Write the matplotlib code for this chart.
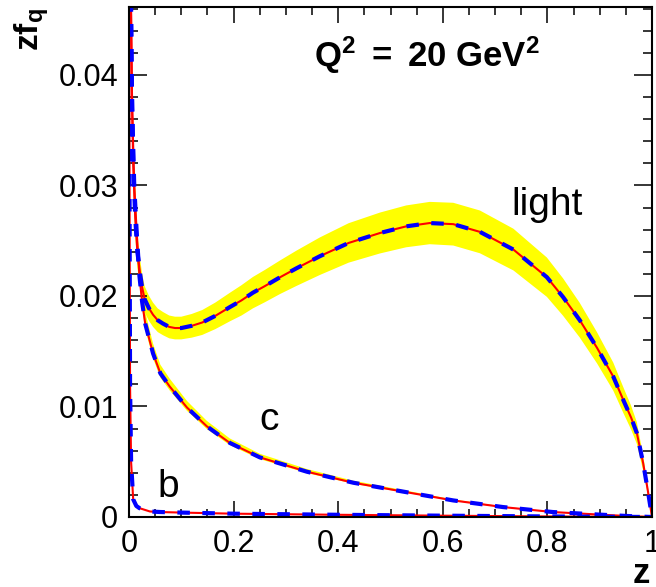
import numpy as np
import matplotlib.pyplot as plt

plt.rcParams['font.family'] = ['Liberation Sans', 'DejaVu Sans']
plt.rcParams['mathtext.fontset'] = 'custom'
plt.rcParams['mathtext.rm'] = 'Liberation Sans'
plt.rcParams['mathtext.bf'] = 'Liberation Sans:bold'
plt.rcParams['mathtext.it'] = 'Liberation Sans:italic'

# light quark fragmentation, Q^2 = 20 GeV^2
light_z = [0.001, 0.003, 0.005, 0.008, 0.012, 0.016, 0.021, 0.025, 0.03, 0.038,
           0.046, 0.055, 0.065, 0.077, 0.088, 0.1, 0.12, 0.14, 0.165, 0.193,
           0.215, 0.237, 0.26, 0.289, 0.32, 0.365, 0.42, 0.48, 0.53, 0.575,
           0.62, 0.671, 0.735, 0.799, 0.83, 0.862, 0.895, 0.926, 0.945, 0.96,
           0.971, 0.983, 0.992, 1.0]
light_f = [0.07, 0.05, 0.040, 0.032, 0.027, 0.024, 0.0221, 0.0208, 0.0197, 0.0189,
           0.0183, 0.0178, 0.0175, 0.0172, 0.0171, 0.0171, 0.0173, 0.0176, 0.0182, 0.019,
           0.0196, 0.0203, 0.0209, 0.0217, 0.0225, 0.0236, 0.0248, 0.0257, 0.0263, 0.0266,
           0.0265, 0.0258, 0.0242, 0.0217, 0.0199, 0.0178, 0.0153, 0.0127, 0.0106, 0.0090,
           0.0076, 0.0049, 0.0024, 0.0]
# relative half width of the yellow band
light_rel = [0.06, 0.06, 0.06, 0.06, 0.06, 0.06, 0.06, 0.06, 0.06, 0.06,
             0.06, 0.06, 0.06, 0.06, 0.06, 0.06, 0.062, 0.064, 0.066, 0.068,
             0.07, 0.07, 0.07, 0.07, 0.071, 0.072, 0.072, 0.072, 0.072, 0.072,
             0.073, 0.075, 0.078, 0.082, 0.085, 0.088, 0.092, 0.1, 0.11, 0.12,
             0.13, 0.14, 0.15, 0.15]

c_z = [0.001, 0.003, 0.006, 0.01, 0.015, 0.02, 0.025, 0.031, 0.046, 0.06,
       0.078, 0.111, 0.149, 0.193, 0.25, 0.34, 0.429, 0.524, 0.62, 0.715,
       0.81, 0.906, 0.97, 1.0]
c_f = [0.08, 0.05, 0.037, 0.030, 0.0255, 0.0218, 0.0195, 0.0175, 0.0148, 0.013,
       0.0118, 0.0099, 0.0082, 0.0067, 0.0054, 0.0041, 0.0031, 0.0023, 0.0015, 0.0009,
       0.00045, 0.0002, 0.00005, 0.0]

b_z = [0.0005, 0.001, 0.002, 0.004, 0.008, 0.014, 0.02, 0.04, 0.06, 0.1,
       0.2, 0.4, 0.6, 0.8, 1.0]
b_f = [0.05, 0.03, 0.012, 0.005, 0.0016, 0.001, 0.0008, 0.0005, 0.00045, 0.0004,
       0.0003, 0.0002, 0.00012, 0.00005, 0.0]

xticks = [0, 0.2, 0.4, 0.6, 0.8, 1.0]
xlabels = ['0', '0.2', '0.4', '0.6', '0.8', '1']
yticks = [0, 0.01, 0.02, 0.03, 0.04]
ylabels = ['0', '0.01', '0.02', '0.03', '0.04']

fig = plt.figure(figsize=(6.56, 5.87), dpi=100)
ax = fig.add_axes([129/656, 70/587, 523/656, 510/587])

lz, lf, lr = np.array(light_z), np.array(light_f), np.array(light_rel)
ax.fill_between(lz, lf*(1-lr), lf*(1+lr), color='#ffff00', lw=0)
cz, cf = np.array(c_z), np.array(c_f)
ax.fill_between(cz, cf*0.97, cf*1.06, color='#ffff00', lw=0)

for z, f in [(light_z, light_f), (c_z, c_f), (b_z, b_f)]:
    ax.plot(z, f, color='#ff0000', lw=1.5)
for z, f in [(light_z, light_f), (c_z, c_f), (b_z, b_f)]:
    ax.plot(z, f, color='#0000ff', lw=3, dashes=(3, 3))

ax.set_xlim(0, 1)
ax.set_ylim(0, 0.04615)
ax.set_xticks(xticks)
ax.set_xticklabels(xlabels)
ax.set_yticks(yticks)
ax.set_yticklabels(ylabels)
ax.set_xticks(np.arange(0, 1.001, 0.05), minor=True)
ax.set_yticks(np.arange(0, 0.0461, 0.002), minor=True)
ax.tick_params(which='both', direction='in', top=True, right=True, width=1.1, labelsize=22)
ax.tick_params(axis='x', which='major', length=11.5, pad=9)
ax.tick_params(axis='x', which='minor', length=5.8)
ax.tick_params(axis='y', which='major', length=12.7, pad=8)
ax.tick_params(axis='y', which='minor', length=6.3)
for s in ax.spines.values():
    s.set_linewidth(1.5)

ax.text(0.57, 0.882, r'$\mathbf{Q^{2}\ =\ 20\ GeV^{2}}$', transform=ax.transAxes,
        ha='center', va='baseline', fontsize=25)
ax.text(0.732, 0.0273, 'light', ha='left', va='baseline', fontsize=28)
ax.text(0.25, 0.0079, 'c', ha='left', va='baseline', fontsize=28)
ax.text(0.055, 0.0018, 'b', ha='left', va='baseline', fontsize=28)

ax.text((32-129)/523, (517-8)/510, r'$\mathbf{zf_{q}}$', transform=ax.transAxes,
        rotation=90, ha='center', va='top', fontsize=24)
ax.text(0.996, (517-583)/510, 'z', transform=ax.transAxes, ha='right', va='baseline',
        fontsize=25, fontweight='bold')

fig.savefig('out.png', dpi=100)
